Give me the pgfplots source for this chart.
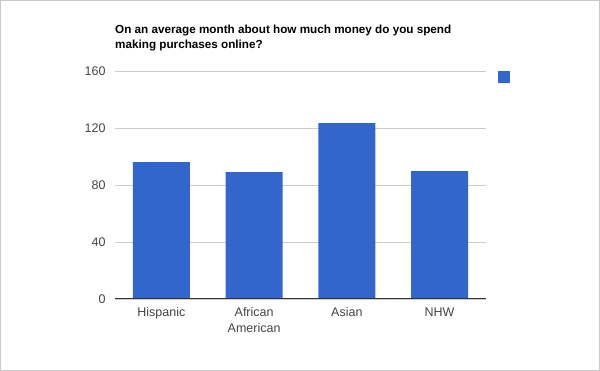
\documentclass[border=0pt]{standalone}
\usepackage{pgfplots}
\pgfplotsset{compat=1.18}
\usepackage{fontspec}
\setmainfont{Liberation Sans}
\definecolor{barblue}{HTML}{3366CC}
\definecolor{gridgray}{HTML}{CCCCCC}
\definecolor{labgray}{HTML}{444444}
\definecolor{framegray}{HTML}{C8C8C8}
\begin{document}
\begin{tikzpicture}[x=1pt,y=1pt]
\useasboundingbox (0,0) rectangle (600,371);
\draw[framegray,line width=1pt] (0.5,0.5) rectangle (599.5,370.5);
\node[anchor=base west,inner sep=0pt,font=\fontsize{11.7}{14}\selectfont\bfseries] at (115,337) {On an average month about how much money do you spend};
\node[anchor=base west,inner sep=0pt,font=\fontsize{11.7}{14}\selectfont\bfseries] at (115,322) {making purchases online?};
\begin{axis}[
  at={(115pt,72pt)}, anchor=south west,
  scale only axis, width=371pt, height=228pt,
  xmin=-0.5, xmax=3.5, ymin=0, ymax=160,
  ytick={0,40,80,120,160},
  xtick={0,1,2,3},
  xticklabels={Hispanic,{African\\American},Asian,NHW},
  major tick length=0pt,
  ymajorgrids, grid style={gridgray,line width=0.8pt},
  axis line style={draw=none},
  ticklabel style={font=\fontsize{12.5}{16}\selectfont, text=labgray},
  xticklabel style={align=center, yshift=-5pt},
  yticklabel style={xshift=-6pt},
  /pgf/number format/assume math mode=true,
  legend style={draw=none, fill=none, at={(axis description cs:1,1)}, anchor=north west, xshift=12pt, yshift=3pt, inner sep=0pt, row sep=0pt},
  legend cell align=left,
]
\addplot[ybar, bar width=57pt, fill=barblue, draw=none,
  legend image code/.code={\fill[barblue] (0pt,-12pt) rectangle (12pt,0pt);}]
  coordinates {(0,96) (1,89) (2,123.5) (3,89.8)};
\addlegendentry{}
\draw[black!80, line width=1pt] (axis cs:-0.5,0) -- (axis cs:3.5,0);
\end{axis}
\end{tikzpicture}
\end{document}
